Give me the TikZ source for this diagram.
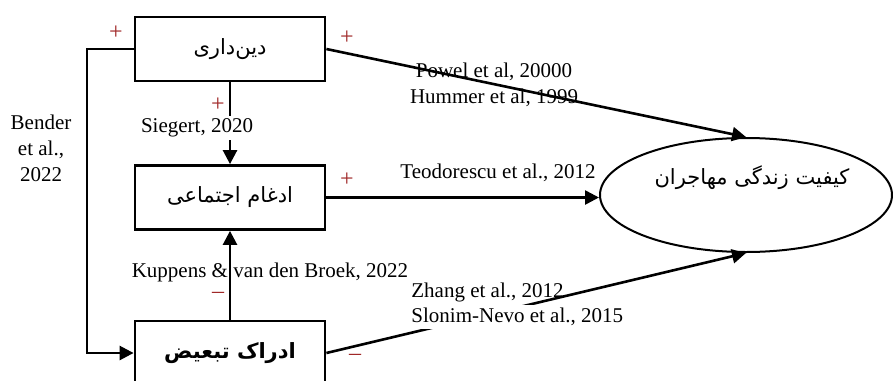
\documentclass[tikz,border=0pt]{standalone}
\usepackage{fontspec}
\setmainfont{Liberation Serif}
\newfontfamily\farsi[Script=Arabic]{DejaVu Sans}
\TeXXeTstate=1
\usetikzlibrary{arrows.meta,shapes.geometric}
\definecolor{signred}{RGB}{160,40,40}

\begin{document}
\begin{tikzpicture}[x=0.5pt,y=-0.5pt,
  font=\fontsize{10.5}{13}\selectfont,
  box/.style={draw,line width=1.4pt,minimum width=95pt,minimum height=32pt,inner sep=0pt},
  link/.style={line width=1.3pt,-{Triangle[length=7pt,width=7pt]}},
  sign/.style={text=signred,inner sep=0pt,font=\fontsize{12}{14}\selectfont},
  cite/.style={inner sep=1.5pt,align=center}]
  \useasboundingbox (0,0) rectangle (893,380);

  \node[box] (religion) at (230,49) {\farsi\beginR دین‌داری\endR};
  \node[box] (integration) at (230,197.5) {\farsi\beginR ادغام اجتماعی\endR};
  \node[box] (discrim) at (230,353) {\farsi\bfseries\beginR ادراک تبعیض\endR};
  \node[draw,ellipse,line width=1pt,minimum width=146pt,minimum height=57pt] (quality) at (746,195) {};
  \node (qualitytext) at (752,178) {\farsi\beginR کیفیت زندگی مهاجران\endR};
  \coordinate (bend) at (87,49);

  \draw[link] (religion.east) -- (quality.north);
  \draw[link] (integration.east) -- (integration.east -| quality.west);
  \draw[link] (discrim.east) -- (quality.south);
  \draw[link] (religion.south) -- (integration.north);
  \draw[link] (discrim.north) -- (integration.south);
  \draw[link] (religion.west) -- (bend) |- (discrim.west);

  \node[cite] (powel) at (494,85) {Powel et al, 20000\\Hummer et al, 1999};
  \node[cite,fill=white] (siegert) at (197,128) {Siegert, 2020};
  \node[cite] (bender) at (41,148) {Bender\\et al.,\\2022};
  \node[cite] (teodorescu) at (498,173) {Teodorescu et al., 2012};
  \node[cite] (kuppens) at (270,272) {Kuppens \& van den Broek, 2022};
  \node[cite,anchor=west] (zhang) at (408,292) {Zhang et al., 2012};
  \node[cite,anchor=west,fill=white] (slonim) at (408,317) {Slonim-Nevo et al., 2015};

  \node[sign] (s1) at (116,33) {+};
  \node[sign] (s2) at (347,38) {+};
  \node[sign] (s3) at (218,105) {+};
  \node[sign] (s4) at (347,180) {+};
  \node[sign] (s5) at (218,295) {–};
  \node[sign] (s6) at (355,357) {–};
\end{tikzpicture}
\end{document}
